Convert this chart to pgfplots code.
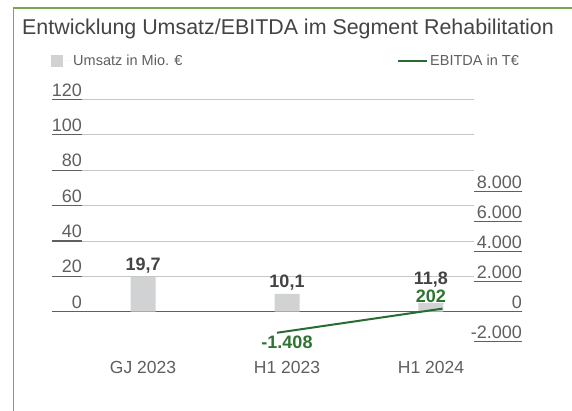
\documentclass[border=0pt]{standalone}
\usepackage{fontspec}
\setmainfont{Liberation Sans}
\usepackage{pgfplots}
\pgfplotsset{compat=1.18}
\definecolor{framegreen}{RGB}{122,166,80}
\definecolor{linegreen}{RGB}{40,108,50}
\definecolor{labgreen}{RGB}{45,115,50}
\definecolor{bargray}{RGB}{209,210,212}
\definecolor{tickgray}{RGB}{95,95,95}
\definecolor{gridgray}{RGB}{198,198,198}
\definecolor{textgray}{RGB}{68,68,68}
\begin{document}
\begin{tikzpicture}
\useasboundingbox (0,0) rectangle (572pt,410pt);
\fill[white] (0,0) rectangle (572pt,410pt);
\draw[framegreen, line width=1.5pt] (13.5pt,-2pt) -- (13.5pt,401.75pt) -- (574pt,401.75pt);
\pgfplotsset{common/.style={
  scale only axis, width=392pt, height=247.5pt,
  at={(82pt,63pt)}, anchor=south west,
  xmin=-0.424, xmax=2.299,
  axis line style={draw=none},
  clip=false,
  /pgf/number format/assume math mode=true,
  tick label style={font=\fontsize{18}{20}\selectfont, text=tickgray},
}}
\begin{axis}[common,
  ymin=-20, ymax=120,
  ytick={20,40,...,120},
  extra y ticks={0}, extra y tick labels={0},
  extra y tick style={major grid style={draw=tickgray, line width=1.1pt}},
  ymajorgrids, grid style={draw=gridgray, line width=0.8pt},
  ytick pos=left, tick align=outside, major tick length=30pt,
  ytick style={draw=tickgray, line width=1.2pt},
  yticklabel style={anchor=south east, inner sep=0pt, xshift=30pt, yshift=3pt},
  xtick={0,1,2}, xticklabels={GJ 2023, H1 2023, H1 2024},
  xtick style={draw=none},
  xticklabel style={anchor=base, yshift=4pt, font=\fontsize{17.5}{20}\selectfont},
  title={Entwicklung Umsatz/EBITDA im Segment Rehabilitation},
  title style={at={(axis description cs:-0.1531,1.2364)}, anchor=base west, inner sep=0pt, font=\fontsize{21.4}{24}\selectfont, text=textgray},
  legend style={draw=none, fill=none, at={(axis description cs:-0.079,1.1556)}, anchor=west, inner sep=0pt, font=\fontsize{14.5}{16}\selectfont, text=tickgray},
  legend cell align=left,
]
\addplot[ybar, bar width=25pt, fill=bargray, draw=none,
  legend image code/.code={\fill[bargray] (0pt,-6pt) rectangle (12pt,6pt); \path (0pt,0pt) -- (20pt,0pt);},
  nodes near coords={\pgfmathprintnumber[fixed,fixed zerofill,precision=1,use comma]{\pgfplotspointmeta}},
  every node near coord/.append style={font=\fontsize{18}{20}\selectfont\bfseries, text=textgray, anchor=base, yshift=6.5pt},
] coordinates {(0,19.7) (1,10.1) (2,11.8)};
\addlegendentry{Umsatz in Mio. €}
\end{axis}
\begin{axis}[common,
  ymin=-2357, ymax=14143,
  ytick={-2000,0,...,8000},
  scaled y ticks=false,
  ytick pos=right, tick align=outside, major tick length=48pt,
  ytick style={draw=tickgray, line width=1.2pt},
  yticklabel style={anchor=south east, inner sep=0pt, yshift=3pt, /pgf/number format/1000 sep={.}},
  xtick=\empty,
  legend style={draw=none, fill=none, at={(axis description cs:0.8036,1.1556)}, anchor=west, inner sep=0pt, font=\fontsize{14.5}{16}\selectfont, text=tickgray},
  legend cell align=left,
]
\addplot[linegreen, line width=2pt,
  legend image code/.code={\draw[linegreen, line width=2pt] (0pt,0pt) -- (21pt,0pt); \path (0pt,0pt) -- (29pt,0pt);},
] coordinates {(0.93,-1408) (2.08,202)};
\addlegendentry{EBITDA in T€}
\addplot[draw=none, forget plot,
  nodes near coords={\pgfmathprintnumber[1000 sep={.}]{\pgfplotspointmeta}},
  every node near coord/.append style={font=\fontsize{18}{20}\selectfont\bfseries, text=labgreen, anchor=north, inner sep=0pt, yshift=-3pt},
] coordinates {(1,-1408)};
\addplot[draw=none, forget plot,
  nodes near coords={\pgfmathprintnumber[1000 sep={.}]{\pgfplotspointmeta}},
  every node near coord/.append style={font=\fontsize{18}{20}\selectfont\bfseries, text=labgreen, anchor=base, fill=white, inner sep=1pt, yshift=6.5pt},
] coordinates {(2,202)};
\end{axis}
\end{tikzpicture}
\end{document}
